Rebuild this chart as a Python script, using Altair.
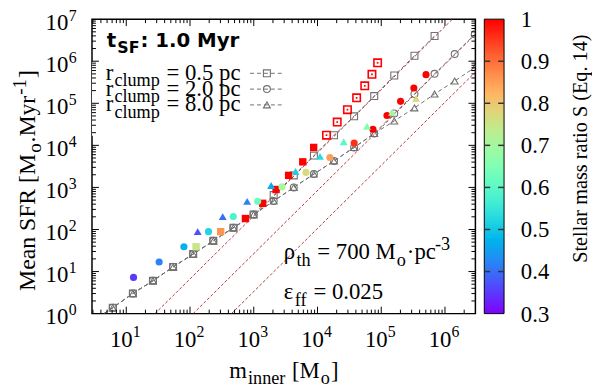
import altair as alt
import pandas as pd

SERIF = "Liberation Serif"
SANS = "DejaVu Sans"

# ---------------- data ----------------
# grey open symbols joined by dashed lines (three clump radii)
m_inner = [2.97, 6.14, 12.7, 26.2, 54.3, 112, 232, 480, 993, 2053, 4246, 8780,
           18150, 37500, 77600, 160000, 332000, 686000, 1.42e6, 2.93e6]
sfr_r05 = [0.67, 1.38, 3.02, 6.03, 12.9, 26.0, 53.7, 110, 226, 656, 1932, 5700,
           17400, 49000, 148000, 457000, 1.35e6, 3.98e6]
sfr_r20 = [0.67, 1.38, 3.02, 6.03, 12.9, 26.0, 53.7, 110, 226, 474, 1000, 2075,
           4266, 8913, 19050, 57500, 166000, 501000, 1.48e6, 4.37e6]
sfr_r80 = [0.67, 1.38, 3.02, 6.03, 12.9, 26.0, 53.7, 110, 226, 474, 1000, 2075,
           4266, 8913, 19050, 38000, 77600, 166000, 339000, 708000]

# coloured filled circles
circ_m = [13.0, 32.8, 80.2, 195, 477, 1153, 2775, 6590, 15640, 37600, 74100,
          123000, 201000, 325000, 504000]
circ_sfr = [7.27, 16.9, 38.8, 88.8, 203, 467, 1027, 2275, 5115, 11330, 24150,
            51400, 111400, 231000, 479600]
circ_S = [0.35, 0.42, 0.47, 0.52, 0.58, 0.62, 0.70, 0.77, 0.85, 0.96, 1.0,
          1.0, 1.0, 1.0, 1.0]

# coloured filled triangles
tri_m = [132, 326, 787, 1875, 4530, 10940, 25760, 59800, 148000, 352000]
tri_sfr = [88.8, 203, 467, 1109, 2400, 5485, 12160, 28400, 60800, 131000]
tri_S = [0.37, 0.40, 0.42, 0.46, 0.51, 0.53, 0.60, 0.65, 0.70, 0.78]

# coloured filled squares
sq_m = [124.5, 303, 741, 1380, 2240, 3524, 5875, 8710]
sq_sfr = [38.8, 88.8, 182, 419, 893, 1933, 4055, 8930]
sq_S = [0.75, 0.86, 1.0, 1.0, 1.0, 1.0, 1.0, 1.0]

# open squares (all S = 1 -> top colour of the palette)
osq_m = [13840, 20400, 29500, 41100, 55100, 71500, 87700]
osq_sfr = [17460, 35800, 70400, 134600, 260000, 487000, 917000]
osq_S = [1.0, 1.0, 1.0, 1.0, 1.0, 1.0, 1.0]

# dark-red dashed reference lines (end points: SFR = 1 and SFR = 1e7)
ref_id = ["a", "b", "c"]
ref_m_lo = [28.2, 112, 447]
ref_m_hi = [1.31e6, 5.21e6, 2.07e7]
ref_sfr_lo = 1.0
ref_sfr_hi = 1.0e7

# axis ticks / labels
x_tick_vals = [10, 100, 1000, 10000, 100000, 1000000]
x_tick_exp = ["1", "2", "3", "4", "5", "6"]
y_tick_vals = [1, 10, 100, 1000, 10000, 100000, 1000000, 10000000]
y_tick_exp = ["0", "1", "2", "3", "4", "5", "6", "7"]
cb_vals = [0.3, 0.4, 0.5, 0.6, 0.7, 0.8, 0.9, 1.0]
cb_labels = ["0.3", "0.4", "0.5", "0.6", "0.7", "0.8", "0.9", "1"]
cb_inner = [0.4, 0.5, 0.6, 0.7, 0.8, 0.9]

# ---------------- styling ----------------
OX, OY = 93, 17          # page position of plot origin
W, H = 388, 298
GREY = "#707070"
REDLINE = "#b03a3a"
RAINBOW = ["#8000ff", "#6032fe", "#4062fa", "#208ef4", "#00b4ec", "#20d4e1",
           "#40ecd4", "#60fac5", "#80ffb4", "#9ffaa2", "#bfec8e", "#dfd478",
           "#ffb462", "#ff8e4a", "#ff6232", "#ff3219", "#ff0000"]
TOP_COLOUR = RAINBOW[-1]

XS = alt.Scale(type="log", domain=[2.9, 3.0e6], nice=False)
YS = alt.Scale(type="log", domain=[1, 1e7], nice=False)
CS = alt.Scale(type="linear", domain=[0.3, 1.0], range=RAINBOW,
               interpolate="rgb", nice=False, zero=False)

TIMES = {" ": 0.25, "=": 0.564, ".": 0.25, "-": 0.333, "[": 0.333, "]": 0.333,
         "·": 0.25, "(": 0.333, ")": 0.333, ":": 0.278,
         "M": 0.889, "S": 0.556, "F": 0.556, "R": 0.667, "E": 0.611,
         "a": 0.444, "c": 0.444, "e": 0.444, "i": 0.278, "l": 0.278, "m": 0.778,
         "n": 0.5, "o": 0.5, "p": 0.5, "r": 0.333, "s": 0.389, "t": 0.278,
         "u": 0.5, "y": 0.5, "h": 0.5, "f": 0.333, "q": 0.5, "ρ": 0.52, "ε": 0.44}
for d in "0123456789":
    TIMES[d] = 0.5
DJB = {" ": 0.348, "t": 0.478, "S": 0.720, "F": 0.683, ":": 0.400, "1": 0.696,
       ".": 0.380, "0": 0.696, "M": 0.995, "y": 0.652, "r": 0.493}

dummy = pd.DataFrame({"k": [0]})


def txt(s, x, y, size=23, font=SERIF, weight="normal", angle=0, align="left",
        baseline="alphabetic", dx=0, dy=0, color="black"):
    kw = dict(text=s, font=font, fontSize=size, fontWeight=weight, align=align,
              baseline=baseline, color=color)
    if angle:
        kw["angle"] = angle
    if dx:
        kw["dx"] = dx
    if dy:
        kw["dy"] = dy
    return alt.Chart(dummy).mark_text(**kw).encode(
        x=alt.value(x - OX), y=alt.value(y - OY))


def rich(pieces, x, y, font=SERIF, weight="normal", widths=TIMES, angle=0, gap=1.0):
    out = []
    adv = 0.0
    for s, size, shift in pieces:
        lead = len(s) - len(s.lstrip(" "))
        adv += widths[" "] * size * lead
        core = s.strip(" ")
        if angle == 0:
            out.append(txt(core, x + adv, y + shift, size, font, weight))
        else:
            out.append(txt(core, x, y, size, font, weight, angle=angle,
                           dx=adv, dy=shift))
        adv += sum(widths.get(c, 0.5) for c in core) * size + gap
        trail = len(s) - lead - len(core)
        adv += widths[" "] * size * trail
    return out


layers = []

# reference lines (carry the grid)
ref_rows = []
for i, lo, hi in zip(ref_id, ref_m_lo, ref_m_hi):
    ref_rows.append({"id": i, "m": lo, "sfr": ref_sfr_lo})
    ref_rows.append({"id": i, "m": hi, "sfr": ref_sfr_hi})
ref_df = pd.DataFrame(ref_rows)
grid_kw = dict(grid=True, labels=False, ticks=False, domain=False, title=None,
               gridColor="#4a4a4a", gridDash=[1, 2], gridWidth=1)
layers.append(
    alt.Chart(ref_df).mark_line(color=REDLINE, strokeDash=[3, 2], strokeWidth=1,
                                clip=True).encode(
        x=alt.X("m:Q", scale=XS, axis=alt.Axis(values=x_tick_vals, **grid_kw)),
        y=alt.Y("sfr:Q", scale=YS, axis=alt.Axis(values=y_tick_vals, **grid_kw)),
        detail="id:N"))

# white key box hiding grid
layers.append(alt.Chart(dummy).mark_rect(color="white").encode(
    x=alt.value(0), x2=alt.value(303 - OX), y=alt.value(60 - OY),
    y2=alt.value(135 - OY)))

# grey series
for sfr, shape in [(sfr_r80, "triangle-up"), (sfr_r20, "circle"),
                   (sfr_r05, "square")]:
    df = pd.DataFrame({"m": m_inner[:len(sfr)], "sfr": sfr})
    layers.append(alt.Chart(df).mark_line(color=GREY, strokeDash=[4, 3],
                                          strokeWidth=1, clip=True).encode(
        x=alt.X("m:Q", scale=XS, axis=None), y=alt.Y("sfr:Q", scale=YS, axis=None)))
    layers.append(alt.Chart(df).mark_point(shape=shape, filled=False, color=GREY,
                                           size=49, strokeWidth=1.1, opacity=1,
                                           clip=True).encode(
        x=alt.X("m:Q", scale=XS, axis=None), y=alt.Y("sfr:Q", scale=YS, axis=None)))

# open squares: stroke in the palette colour for S = 1
osq_df = pd.DataFrame({"m": osq_m, "sfr": osq_sfr, "S": osq_S})
layers.append(alt.Chart(osq_df).mark_point(shape="square", filled=False, size=56,
                                           strokeWidth=1.6, opacity=1,
                                           color=TOP_COLOUR).encode(
    x=alt.X("m:Q", scale=XS, axis=None), y=alt.Y("sfr:Q", scale=YS, axis=None)))

sq_df = pd.DataFrame({"m": sq_m, "sfr": sq_sfr, "S": sq_S})
layers.append(alt.Chart(sq_df).mark_point(shape="square", filled=True, size=56,
                                          opacity=1).encode(
    x=alt.X("m:Q", scale=XS, axis=None), y=alt.Y("sfr:Q", scale=YS, axis=None),
    color=alt.Color("S:Q", scale=CS, legend=None)))

layers.append(alt.Chart(osq_df).mark_point(shape="square", filled=True, size=3,
                                           opacity=1).encode(
    x=alt.X("m:Q", scale=XS, axis=None), y=alt.Y("sfr:Q", scale=YS, axis=None),
    color=alt.Color("S:Q", scale=CS, legend=None)))

circ_df = pd.DataFrame({"m": circ_m, "sfr": circ_sfr, "S": circ_S})
layers.append(alt.Chart(circ_df).mark_point(shape="circle", filled=True, size=52,
                                            opacity=1).encode(
    x=alt.X("m:Q", scale=XS, axis=None), y=alt.Y("sfr:Q", scale=YS, axis=None),
    color=alt.Color("S:Q", scale=CS, legend=None)))

tri_df = pd.DataFrame({"m": tri_m, "sfr": tri_sfr, "S": tri_S})
layers.append(alt.Chart(tri_df).mark_point(shape="triangle-up", filled=True,
                                           size=64, opacity=1).encode(
    x=alt.X("m:Q", scale=XS, axis=None), y=alt.Y("sfr:Q", scale=YS, axis=None),
    color=alt.Color("S:Q", scale=CS, legend=None)))

# inward ticks on all four sides
x_minor = [m * 10 ** k for k in range(0, 7) for m in range(2, 10)
           if 2.95 <= m * 10 ** k <= 2.95e6]
y_minor = [m * 10 ** k for k in range(0, 7) for m in range(2, 10)]
for vals, ln in [(x_tick_vals, 7), (x_minor, 4)]:
    df = pd.DataFrame({"v": vals})
    xe = alt.X("v:Q", scale=XS, axis=None)
    layers.append(alt.Chart(df).mark_rule(color="black", strokeWidth=1).encode(
        x=xe, y=alt.value(H), y2=alt.value(H - ln)))
    layers.append(alt.Chart(df).mark_rule(color="black", strokeWidth=1).encode(
        x=xe, y=alt.value(0), y2=alt.value(ln)))
for vals, ln in [(y_tick_vals[1:-1], 7), (y_minor, 4)]:
    df = pd.DataFrame({"v": vals})
    ye = alt.Y("v:Q", scale=YS, axis=None)
    layers.append(alt.Chart(df).mark_rule(color="black", strokeWidth=1).encode(
        y=ye, x=alt.value(0), x2=alt.value(ln)))
    layers.append(alt.Chart(df).mark_rule(color="black", strokeWidth=1).encode(
        y=ye, x=alt.value(W), x2=alt.value(W - ln)))

# tick labels 10^k
xt_df = pd.DataFrame({"v": x_tick_vals, "e": x_tick_exp})
layers.append(alt.Chart(xt_df).mark_text(text="10", align="right", dx=6.5,
                                         font=SERIF, fontSize=23,
                                         baseline="alphabetic", color="black").encode(
    x=alt.X("v:Q", scale=XS, axis=None), y=alt.value(348.3 - OY)))
layers.append(alt.Chart(xt_df).mark_text(align="left", dx=6.5, font=SERIF,
                                         fontSize=16, baseline="alphabetic",
                                         color="black").encode(
    x=alt.X("v:Q", scale=XS, axis=None), y=alt.value(338.8 - OY), text="e:N"))
yt_df = pd.DataFrame({"v": y_tick_vals, "e": y_tick_exp})
layers.append(alt.Chart(yt_df).mark_text(text="10", align="right", dy=10.5,
                                         font=SERIF, fontSize=23,
                                         baseline="alphabetic", color="black").encode(
    y=alt.Y("v:Q", scale=YS, axis=None), x=alt.value(69 - OX)))
layers.append(alt.Chart(yt_df).mark_text(align="left", dy=1.5, font=SERIF,
                                         fontSize=16, baseline="alphabetic",
                                         color="black").encode(
    y=alt.Y("v:Q", scale=YS, axis=None), x=alt.value(69.5 - OX), text="e:N"))

# key (legend) rows
key_rows = [("0.5", "square", 78.3), ("2.0", "circle", 94.3),
            ("8.0", "triangle-up", 110.3)]
for val, shape, base in key_rows:
    layers += rich([("r", 23, 0), ("clump", 18.4, 6.5), (" = %s pc" % val, 23, 0)],
                   107, base)
    layers.append(alt.Chart(dummy).mark_rule(color=GREY, strokeDash=[4, 3],
                                             strokeWidth=1).encode(
        x=alt.value(253 - OX), x2=alt.value(287 - OX), y=alt.value(base - 6.5 - OY)))
    layers.append(alt.Chart(dummy).mark_point(shape=shape, filled=False, color=GREY,
                                              size=49, strokeWidth=1.1,
                                              opacity=1).encode(
        x=alt.value(270 - OX), y=alt.value(base - 6.5 - OY)))

# t_SF label
layers += rich([("t", 20, 0), ("SF", 16, 6), (": 1.0 Myr", 20, 0)], 108, 45,
               font=SANS, weight="bold", widths=DJB)

# rho / epsilon annotations
layers += rich([("ρ", 23, 0), ("th", 18.4, 6.5), (" = 700 M", 23, 0),
                ("o", 18.4, 6.5), ("·pc", 23, 0), ("-3", 18.4, -9)], 287, 260)
layers += rich([("ε", 23, 0), ("ff", 18.4, 6.5), (" = 0.025", 23, 0)], 287, 300.5)

# axis titles
layers += rich([("m", 23, 0), ("inner", 18.4, 6), (" [M", 23, 0), ("o", 18.4, 6),
                ("]", 23, 0)], 232, 380)
layers += rich([("Mean SFR [M", 24, 0), ("o", 19, 6), (".Myr", 24, 0),
                ("-1", 19, -9), ("]", 24, 0)], 35, 292, angle=270)
layers.append(txt("Stellar mass ratio S (Eq. 14)", 594, 148, size=20.5,
                  angle=270, align="center"))

main = alt.layer(*layers)

# ---- colour bar: gradient box, tick dashes and labels on its own S scale ----
n = len(RAINBOW)
cb_grad = alt.Gradient(
    gradient="linear", x1=0, x2=0, y1=1, y2=0,
    stops=[alt.GradientStop(offset=i / (n - 1), color=c) for i, c in enumerate(RAINBOW)])
cb_box = alt.Chart(dummy).mark_rect(fill=cb_grad, stroke="black",
                                    strokeWidth=1).encode(
    x=alt.value(W + 9), x2=alt.value(W + 29), y=alt.value(0), y2=alt.value(H))
cbt_df = pd.DataFrame({"S": cb_inner})
cbl_df = pd.DataFrame({"S": cb_vals, "lab": cb_labels})
cb_y = alt.Y("S:Q", scale=alt.Scale(domain=[0.3, 1.0], nice=False, zero=False),
             axis=None)
cb_left = alt.Chart(cbt_df).mark_rule(color="#333333", strokeWidth=1.5).encode(
    y=cb_y, x=alt.value(W + 9), x2=alt.value(W + 15))
cb_right = alt.Chart(cbt_df).mark_rule(color="#333333", strokeWidth=1.5).encode(
    y=cb_y, x=alt.value(W + 23), x2=alt.value(W + 29))
cb_text = alt.Chart(cbl_df).mark_text(align="left", baseline="middle", font=SERIF,
                                      fontSize=23, color="black", dy=1).encode(
    y=cb_y, x=alt.value(W + 46), text="lab:N")
cbar = alt.layer(cb_box, cb_left, cb_right, cb_text)

chart = alt.layer(main, cbar).resolve_scale(y="independent").properties(
    width=W, height=H,
    autosize=alt.AutoSizeParams(type="none"),
    padding={"left": 85, "top": 9, "right": 118, "bottom": 74},
    background="white",
).configure_view(stroke="black", strokeWidth=1.5)

chart.save("out.html", embed_options={"renderer": "svg", "actions": False})
